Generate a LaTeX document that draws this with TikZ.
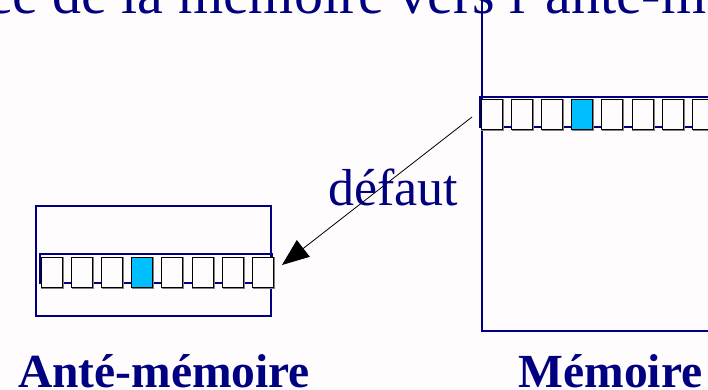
\documentclass[tikz,border=0pt]{standalone}
\usepackage{fontspec}
\setmainfont{Liberation Serif}
\usetikzlibrary{arrows.meta}
\definecolor{navy}{RGB}{0,0,128}
\definecolor{cellblue}{RGB}{0,191,255}
\definecolor{bgcol}{RGB}{255,252,254}
\definecolor{shadowgray}{RGB}{128,128,128}
\begin{document}
\begin{tikzpicture}[x=1pt,y=-1pt,
  box/.style={draw=navy,line width=2.5pt,rectangle,inner sep=0pt,outer sep=0pt},
  strip/.style={draw=navy,line width=2.5pt,rectangle,inner sep=0pt,outer sep=0pt},
  cellshadow/.style={draw=shadowgray,line width=1.2pt,rectangle,minimum width=21pt,minimum height=30pt,inner sep=0pt,outer sep=0pt},
  cell/.style={draw=black,line width=0.8pt,rectangle,minimum width=21pt,minimum height=30pt,inner sep=0pt,outer sep=0pt,fill=bgcol},
  hotcell/.style={cell,fill=cellblue},
  txt/.style={text=navy,inner sep=0pt,outer sep=0pt},
  fetch/.style={draw=black,line width=0.8pt,-{Triangle[length=27pt,width=21pt]}}
]
\useasboundingbox (0,0) rectangle (708,390);
\fill[bgcol] (0,0) rectangle (708,390);
\clip (0,0) rectangle (708,390);

% title (cut off at the top)
\node[txt,anchor=base west,font=\fontsize{58}{58}\selectfont] (title) at (-13.6,13.5) {ce de la mémoire vers l'anté-mémoire};

% cache (anté-mémoire)
\node[box,minimum width=235pt,minimum height=110pt] (cache) at (153.5,261) {};
\node[strip,minimum width=232pt,minimum height=29pt] (cstrip) at (156,268.5) {};
\foreach \i in {0,...,7}{
  \node[cellshadow] at (51.5+30.2*\i+1,273) {};
}
\foreach \i in {0,1,2,4,5,6,7}{
  \node[cell] (c\i) at (51.5+30.2*\i,272) {};
}
\node[hotcell] (c3) at (51.5+30.2*3,272) {};

% memory
\node[box,minimum width=278pt,minimum height=361pt] (mem) at (621,150.5) {};
\node[strip,minimum width=260pt,minimum height=30pt] (mstrip) at (610,112) {};
\foreach \i in {0,...,7}{
  \node[cellshadow] at (491.5+30.2*\i+1,115) {};
}
\foreach \i in {0,1,2,4,5,6,7}{
  \node[cell] (m\i) at (491.5+30.2*\i,114) {};
}
\node[hotcell] (m3) at (491.5+30.2*3,114) {};

% arrow
\coordinate (from) at ([xshift=-8pt,yshift=-5pt]mstrip.west);
\coordinate (to) at ([xshift=10pt,yshift=3.5pt]cstrip.east);
\draw[fetch] (from) -- (to);
\node[txt,anchor=base,font=\fontsize{52}{52}\selectfont] (lbl) at (393,205) {défaut};

% captions
\node[txt,anchor=base,font=\fontsize{47.5}{47.5}\selectfont\bfseries] (capc) at (164,387) {Anté-mémoire};
\node[txt,anchor=base,font=\fontsize{47.5}{47.5}\selectfont\bfseries] (capm) at (610.5,387) {Mémoire};
\end{tikzpicture}
\end{document}
